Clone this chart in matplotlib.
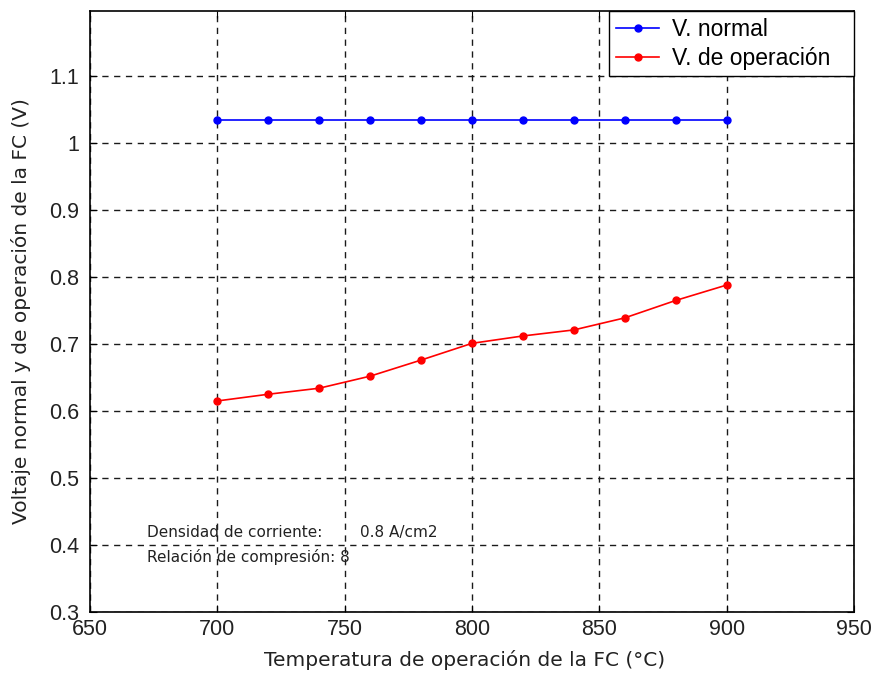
import matplotlib
matplotlib.use("Agg")
import matplotlib.pyplot as plt

temperatura = [700, 720, 740, 760, 780, 800, 820, 840, 860, 880, 900]
v_normal = [1.035] * 11
v_operacion = [0.615, 0.625, 0.634, 0.652, 0.676, 0.701, 0.712, 0.721, 0.739, 0.765, 0.788]

xticks = [650, 700, 750, 800, 850, 900, 950]
yticks = [0.3, 0.4, 0.5, 0.6, 0.7, 0.8, 0.9, 1.0, 1.1]
ytick_labels = ["0.3", "0.4", "0.5", "0.6", "0.7", "0.8", "0.9", "1", "1.1"]

plt.rcParams["font.family"] = ["Liberation Sans", "DejaVu Sans"]

fig = plt.figure(figsize=(8.72, 6.74), dpi=100)
ax = fig.add_axes([90 / 872, 1 - 612 / 674, (854 - 90) / 872, (612 - 11) / 674])

ax.plot(temperatura, v_normal, color="blue", marker="o", markersize=5,
        linewidth=1.2, label="V. normal")
ax.plot(temperatura, v_operacion, color="red", marker="o", markersize=5,
        linewidth=1.2, label="V. de operación")

ax.set_xlim(650, 950)
ax.set_ylim(0.3, 1.197)
ax.set_xticks(xticks)
ax.set_yticks(yticks)
ax.set_yticklabels(ytick_labels)

ax.grid(True, color="#1a1a1a", linestyle=(0, (4.5, 4)), linewidth=1.0)
ax.tick_params(direction="in", length=5, labelsize=15.5, top=True, right=True,
               color="black", labelcolor="#222222")
ax.tick_params(axis="x", pad=5)
ax.tick_params(axis="y", pad=8)
for s in ax.spines.values():
    s.set_linewidth(1.2)
    s.set_color("black")

label_font = {"family": "DejaVu Sans", "size": 14.5, "color": "#222222"}
ax.set_xlabel("Temperatura de operación de la FC (°C)", fontdict=label_font)
ax.set_ylabel("Voltaje normal y de operación de la FC (V)", fontdict=label_font)
ax.xaxis.set_label_coords(0.49, -0.063)
ax.yaxis.set_label_coords(-0.077, 0.5)

note_font = {"family": "DejaVu Sans", "size": 11, "color": "#222222"}
ax.text(672.4, 0.418, "Densidad de corriente:", va="center", fontdict=note_font)
ax.text(756.0, 0.418, "0.8 A/cm2", va="center", fontdict=note_font)
ax.text(672.4, 0.382, "Relación de compresión: 8", va="center", fontdict=note_font)

# legend box spans the upper-right corner with extra room on the right
leg_x0 = (609 - 90) / 764
leg = ax.legend(loc="upper left", bbox_to_anchor=(leg_x0, 1.0, 1.0 - leg_x0, 0.0),
                mode="expand", prop={"family": "Liberation Sans", "size": 16.5},
                frameon=True, fancybox=False, borderaxespad=0, handlelength=1.9,
                borderpad=0.3, labelspacing=0.25, handletextpad=0.55)
leg.get_frame().set_edgecolor("black")
leg.get_frame().set_linewidth(1.0)
leg.get_frame().set_alpha(1.0)

fig.savefig("out.png", dpi=100)
